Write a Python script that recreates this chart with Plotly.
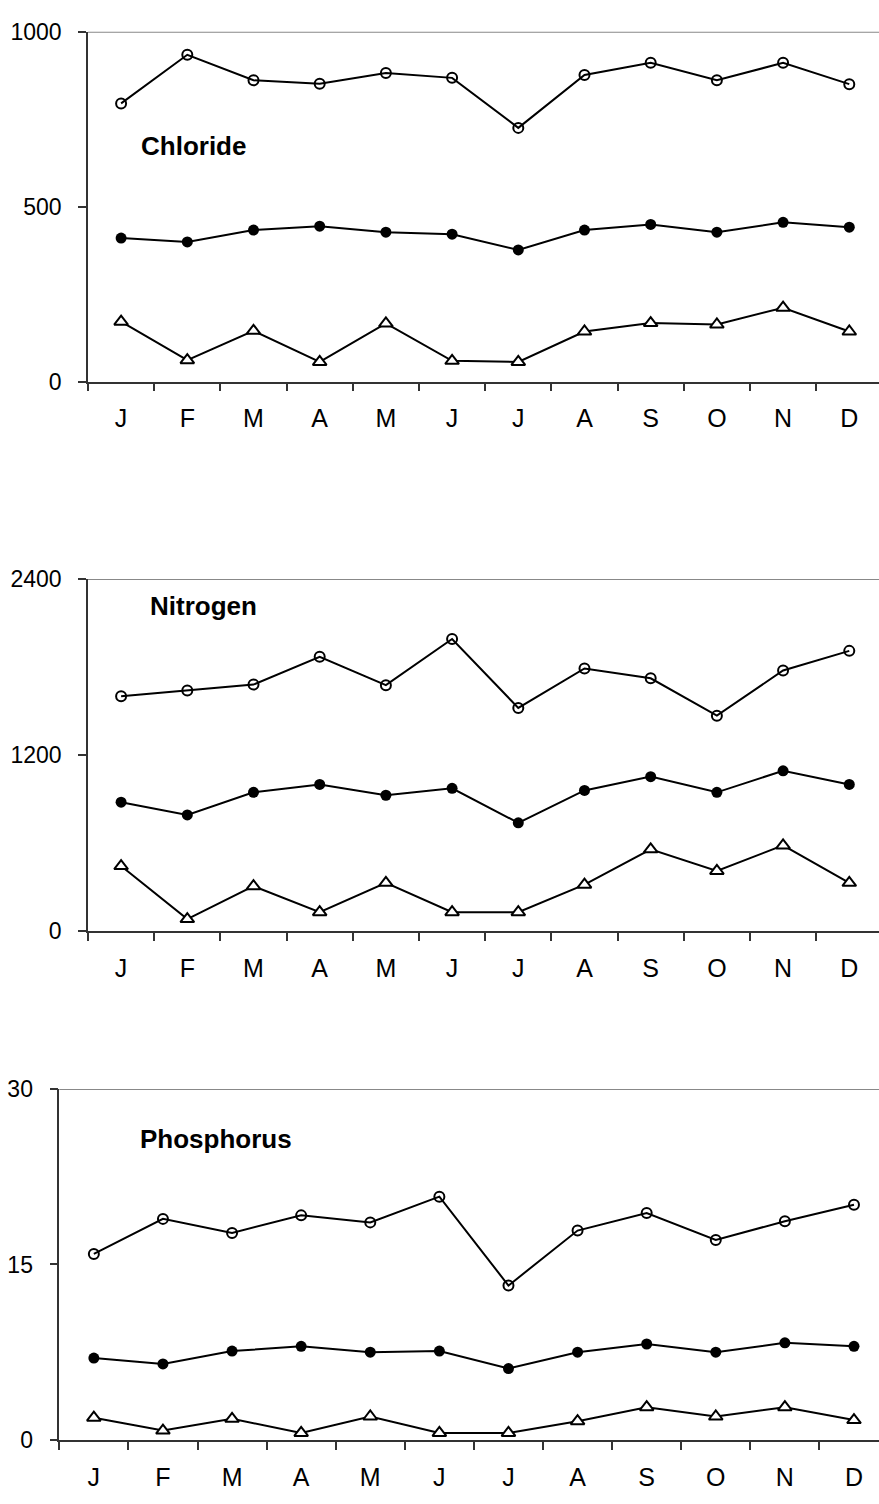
import plotly.graph_objects as go

months = ["J", "F", "M", "A", "M", "J", "J", "A", "S", "O", "N", "D"]
cats = [f"{m}{i}" for i, m in enumerate(months)]  # unique category keys

chloride_open = [795, 934, 861, 851, 882, 868, 725, 876, 911, 861, 911, 850]
chloride_filled = [410, 399, 433, 444, 427, 421, 376, 433, 449, 427, 455, 441]
chloride_tri = [171, 61, 145, 56, 166, 59, 56, 143, 167, 163, 211, 143]

nitrogen_open = [1600, 1640, 1680, 1870, 1676, 1991, 1521, 1790, 1723, 1468, 1776, 1910]
nitrogen_filled = [878, 791, 945, 999, 925, 972, 737, 958, 1052, 945, 1092, 999]
nitrogen_tri = [442, 80, 305, 127, 328, 127, 127, 315, 556, 409, 583, 328]

phosphorus_open = [15.9, 18.9, 17.7, 19.2, 18.6, 20.8, 13.2, 17.9, 19.4, 17.1, 18.7, 20.1]
phosphorus_filled = [7.0, 6.5, 7.6, 8.0, 7.5, 7.6, 6.1, 7.5, 8.2, 7.5, 8.3, 8.0]
phosphorus_tri = [1.9, 0.8, 1.8, 0.6, 2.0, 0.6, 0.6, 1.6, 2.8, 2.0, 2.8, 1.7]

panels = [
    ("Chloride", chloride_open, chloride_filled, chloride_tri, [0, 500, 1000], 1000),
    ("Nitrogen", nitrogen_open, nitrogen_filled, nitrogen_tri, [0, 1200, 2400], 2400),
    ("Phosphorus", phosphorus_open, phosphorus_filled, phosphorus_tri, [0, 15, 30], 30),
]

H = 1504.0
W = 879.0
# pixel layout: (left px, top px, bottom px, x range upper)
geom = [
    (88, 19, 375, 11.449),
    (88, 576, 934, 11.449),
    (59.3, 1095, 1452, 11.362),
]
label_pos = [(139, 135), (148, 603), (138, 1146)]

fig = go.Figure()
font_family = "Liberation Sans, Arial, sans-serif"

for i, (name, o, f, t, yticks, ymax) in enumerate(panels):
    n = i + 1
    xa = "x" if n == 1 else f"x{n}"
    ya = "y" if n == 1 else f"y{n}"
    line = dict(color="black", width=2)
    fig.add_trace(go.Scatter(x=cats, y=o, xaxis=xa, yaxis=ya, mode="lines+markers",
                             line=line, cliponaxis=False,
                             marker=dict(symbol="circle-open", size=10, color="black",
                                         line=dict(width=2, color="black"))))
    fig.add_trace(go.Scatter(x=cats, y=f, xaxis=xa, yaxis=ya, mode="lines+markers",
                             line=line, cliponaxis=False,
                             marker=dict(symbol="circle", size=11, color="black")))
    fig.add_trace(go.Scatter(x=cats, y=t, xaxis=xa, yaxis=ya, mode="lines+markers",
                             line=line, cliponaxis=False,
                             marker=dict(symbol="triangle-up", size=12, color="white",
                                         line=dict(width=2, color="black"))))
    left, top, bottom, xr = geom[i]
    xdom = [left / W, 1]
    ydom = [1 - bottom / H, 1 - top / H]
    fig.layout[("xaxis" if n == 1 else f"xaxis{n}")] = dict(
        domain=xdom, anchor=ya, type="category", range=[-0.5, xr],
        tickmode="array", tickvals=cats, ticktext=months,
        tickson="boundaries", ticks="outside", ticklen=8, tickwidth=1.5,
        tickcolor="#333333", showline=True, linecolor="#333333", linewidth=1.5,
        showgrid=False, zeroline=False, ticklabelstandoff=14,
        tickfont=dict(family=font_family, size=25, color="black"),
    )
    fig.layout[("yaxis" if n == 1 else f"yaxis{n}")] = dict(
        domain=ydom, anchor=xa, range=[0, ymax], tickmode="array", tickvals=yticks,
        ticks="outside", ticklen=8, tickwidth=1.5, tickcolor="#333333",
        showline=True, linecolor="#333333", linewidth=1.5, showgrid=False,
        zeroline=False, ticklabelstandoff=12,
        tickfont=dict(family=font_family, size=23, color="black"),
    )
    fig.add_shape(type="line", xref=f"{xa} domain", yref=ya, x0=0, x1=1,
                  y0=ymax, y1=ymax, line=dict(color="#888888", width=2))
    lx, ly = label_pos[i]
    fig.add_annotation(x=lx / W, y=1 - ly / H, xref="paper", yref="paper",
                       xanchor="left", yanchor="middle", showarrow=False,
                       text=f"<b>{name}</b>",
                       font=dict(family=font_family, size=26, color="black"))

fig.update_layout(width=879, height=1504, margin=dict(l=0, r=0, t=0, b=0),
                  paper_bgcolor="white", plot_bgcolor="white", showlegend=False)

fig.write_html("out.html",
               post_script="document.body.style.margin='0';document.body.style.padding='0';")
